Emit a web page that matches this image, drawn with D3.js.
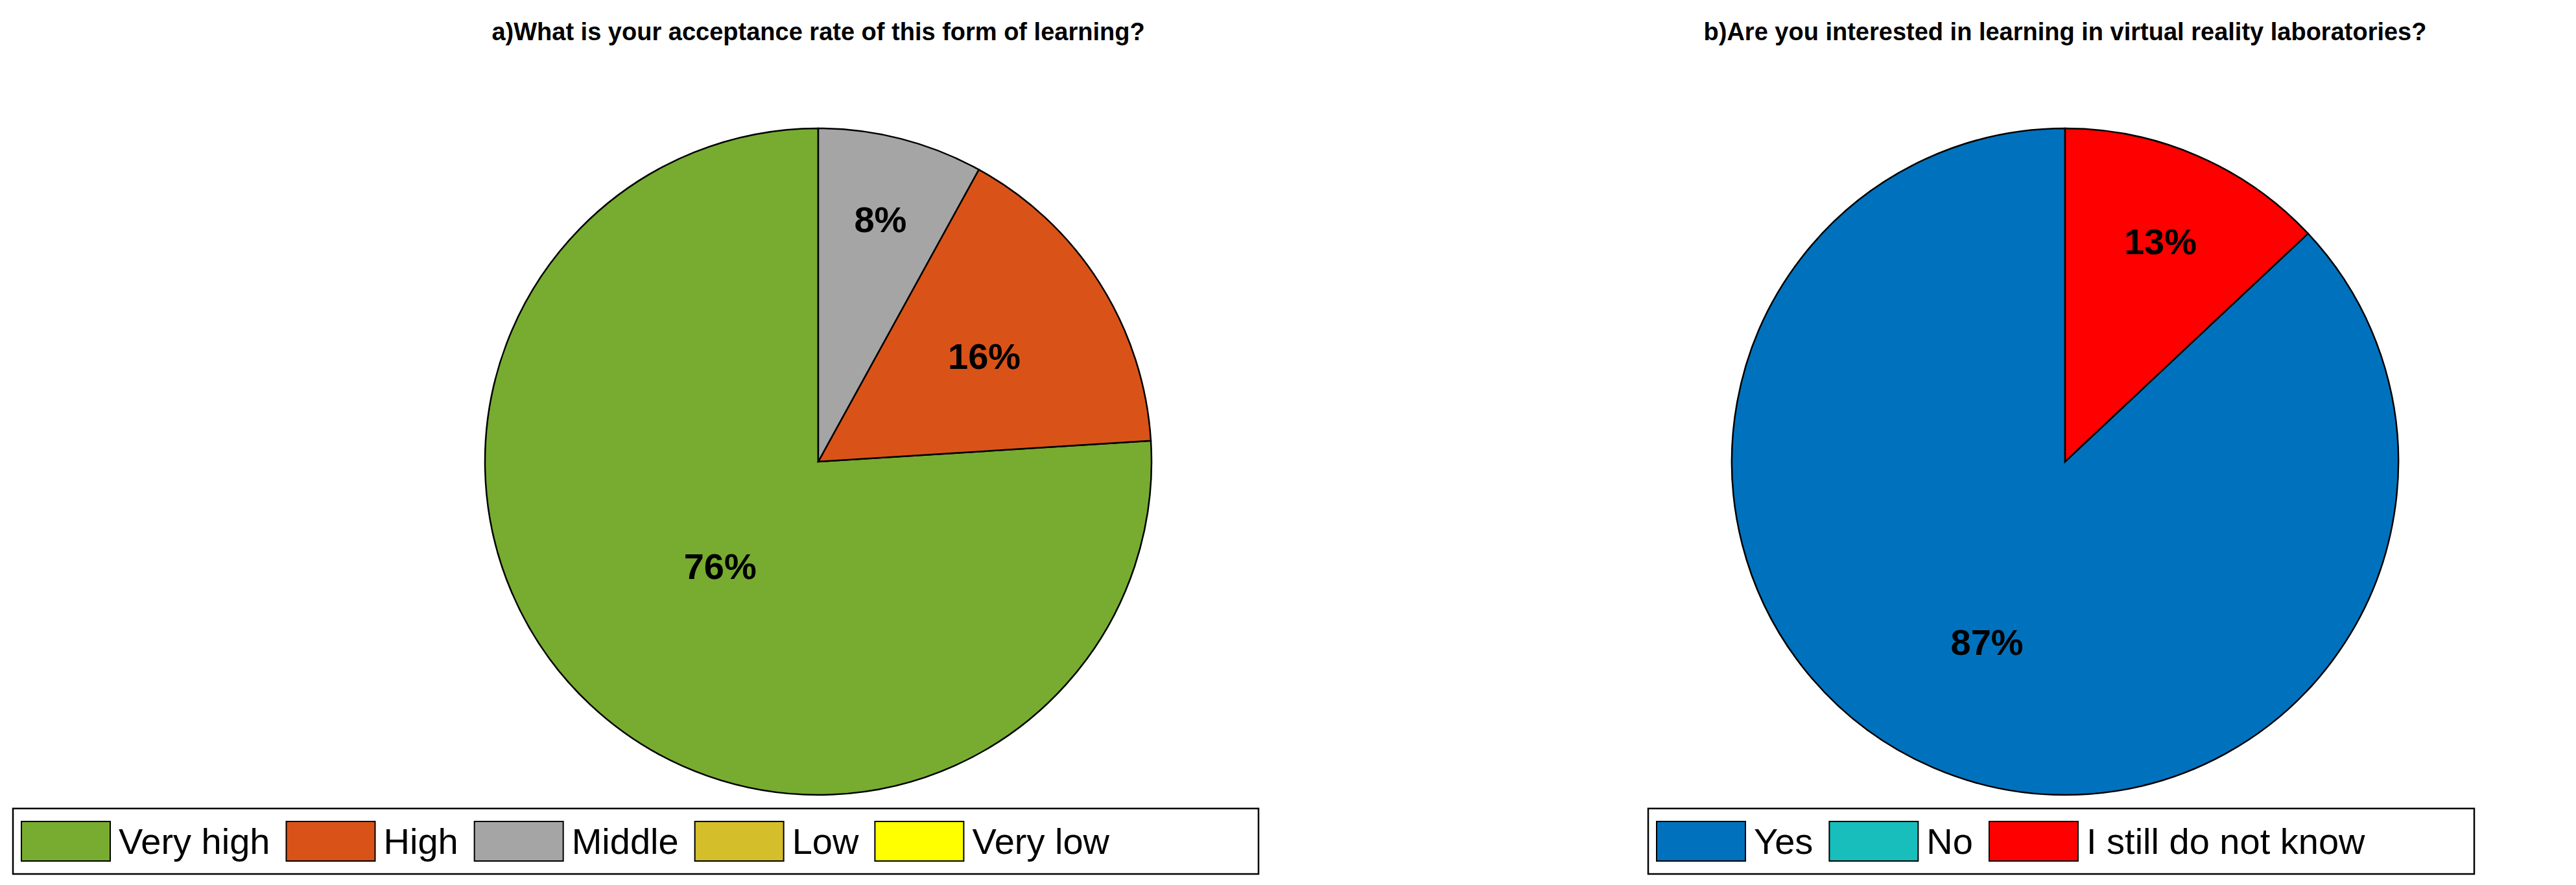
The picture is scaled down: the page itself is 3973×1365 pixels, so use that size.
<!DOCTYPE html><html><head><script src="https://cdn.jsdelivr.net/npm/d3@7"></script>
<style>body{margin:0;background:#fff}text{font-family:"Liberation Sans",Arial,sans-serif}</style></head><body>
<svg id="c" width="3973" height="1365"></svg>
<script>
const titles=["a)What is your acceptance rate of this form of learning?","b)Are you interested in learning in virtual reality laboratories?"];
const catsA=["Very high","High","Middle","Low","Very low"];
const valsA=[76,16,8,0,0];
const colsA=["#77AC30","#D95319","#A5A5A5","#D4BE2A","#FFFF00"];
const catsB=["Yes","No","I still do not know"];
const valsB=[87,0,13];
const colsB=["#0072BD","#17BEBB","#FF0000"];
const labRA=[0.43,0.59,0.75,0.6,0.6];
const labRB=[0.59,0.6,0.72];
const svg=d3.select("#c");
function chart(cx,cy,r,title,cats,vals,cols,labR,lx,ly,lw){
  const g=svg.append("g");
  g.append("text").attr("x",cx).attr("y",62).attr("text-anchor","middle").attr("font-weight","bold").attr("font-size",38).text(title);
  const pie=d3.pie().sort(null).startAngle(0).endAngle(-2*Math.PI)(vals);
  const arc=d3.arc().innerRadius(0).outerRadius(r);
  const pg=g.append("g").attr("transform",`translate(${cx},${cy})`);
  pie.forEach((d,i)=>{ if(d.value<=0) return;
    pg.append("path").attr("d",arc(d)).attr("fill",cols[i]).attr("stroke","#000").attr("stroke-width",2.5);
    const m=(d.startAngle+d.endAngle)/2, rr=r*labR[i];
    pg.append("text").attr("x",Math.sin(m)*rr).attr("y",-Math.cos(m)*rr).attr("dy","0.35em").attr("text-anchor","middle")
      .attr("font-weight","bold").attr("font-size",56).text(d.value+"%");
  });
  const lg=g.append("g");
  const box=lg.append("rect").attr("x",lx).attr("y",ly).attr("height",101).attr("fill","#fff").attr("stroke","#000").attr("stroke-width",2.5);
  let x=lx+13;
  cats.forEach((c,i)=>{
    lg.append("rect").attr("x",x).attr("y",ly+20).attr("width",137).attr("height",61).attr("fill",cols[i]).attr("stroke","#000").attr("stroke-width",2);
    const t=lg.append("text").attr("x",x+137+13).attr("y",ly+50).attr("dy","0.36em").attr("font-size",56).text(c);
    x+=137+13+t.node().getComputedTextLength()+25;
  });
  box.attr("width",lw);
}
chart(1262,712,514,titles[0],catsA,valsA,colsA,labRA,20,1247,1921);
chart(3185,712,514,titles[1],catsB,valsB,colsB,labRB,2542,1247,1274);
</script></body></html>
